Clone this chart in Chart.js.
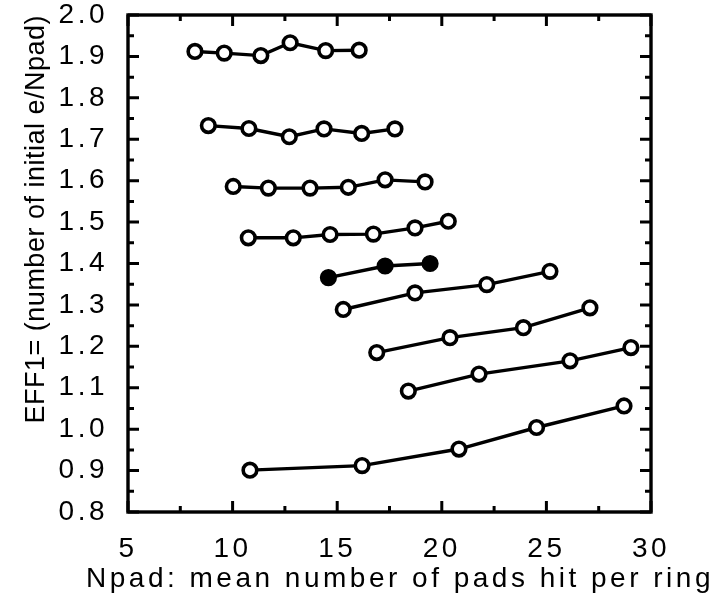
<!DOCTYPE html>
<html><head><meta charset="utf-8">
<script src="https://cdn.jsdelivr.net/npm/chart.js@4"></script>
<style>html,body{margin:0;padding:0;background:#fff}#wrap{width:722px;height:601px}</style>
</head><body><div id="wrap"><canvas id="c" width="722" height="601"></canvas></div>
<script>
// ---- data ----
const xTickValues = [5, 10, 15, 20, 25, 30];
const yTickValues = [0.8, 0.9, 1.0, 1.1, 1.2, 1.3, 1.4, 1.5, 1.6, 1.7, 1.8, 1.9, 2.0];
const xTitle = 'Npad: mean number of pads hit per ring';
const yTitle = 'EFF1= (number of initial e/Npad)';

const row1X = [8.2, 9.6, 11.35, 12.75, 14.45, 16.05];
const row1Y = [1.912, 1.908, 1.902, 1.933, 1.914, 1.915];
const row2X = [8.84, 10.78, 12.71, 14.37, 16.17, 17.76];
const row2Y = [1.733, 1.726, 1.706, 1.725, 1.714, 1.725];
const row3X = [10.03, 11.71, 13.70, 15.53, 17.29, 19.20];
const row3Y = [1.586, 1.582, 1.582, 1.584, 1.602, 1.597];
const row4X = [10.75, 12.90, 14.66, 16.73, 18.72, 20.31];
const row4Y = [1.462, 1.462, 1.470, 1.471, 1.486, 1.502];
const filledX = [14.58, 17.29, 19.44];
const filledY = [1.366, 1.394, 1.400];
const row6X = [15.29, 18.72, 22.15, 25.17];
const row6Y = [1.289, 1.329, 1.349, 1.381];
const row7X = [16.89, 20.39, 23.90, 27.08];
const row7Y = [1.185, 1.221, 1.245, 1.293];
const row8X = [18.40, 21.78, 26.13, 29.04];
const row8Y = [1.092, 1.133, 1.165, 1.197];
const row9X = [10.83, 16.19, 20.82, 24.53, 28.71];
const row9Y = [0.901, 0.912, 0.952, 1.004, 1.056];

function pts(xs, ys) { return xs.map((x, i) => ({ x: x, y: ys[i] })); }
function openSeries(xs, ys) {
  return { data: pts(xs, ys), showLine: true, borderColor: '#000', borderWidth: 3.4, tension: 0,
    pointRadius: 6.8, pointBorderWidth: 3.6, pointBackgroundColor: '#fff', pointBorderColor: '#000' };
}
function filledSeries(xs, ys) {
  return { data: pts(xs, ys), showLine: true, borderColor: '#000', borderWidth: 3.4, tension: 0,
    pointRadius: 7.8, pointBorderWidth: 1.6, pointBackgroundColor: '#000', pointBorderColor: '#000' };
}

const LS = '3.5px';
const framePlugin = {
  id: 'frame',
  beforeLayout(chart) { chart.ctx.letterSpacing = LS; },
  afterLayout(chart) {
    const ys = chart.scales.y;
    if (ys && !ys._patchedTitle) {
      const orig = ys.drawTitle;
      ys.drawTitle = function () {
        const c = this.ctx; const prev = c.letterSpacing;
        c.letterSpacing = '0.5px'; orig.call(this); c.letterSpacing = prev;
      };
      ys._patchedTitle = true;
    }
    const xs = chart.scales.x;
    if (xs && !xs._patchedTitle) {
      const origX = xs.drawTitle;
      xs.drawTitle = function () {
        // let the title run wider than the plot area, as in the reference
        const l = this.left, r = this.right;
        this.left = 62; this.right = 738;
        origX.call(this);
        this.left = l; this.right = r;
      };
      xs._patchedTitle = true;
    }
  },
  beforeDraw(chart) {
    const c = chart.ctx;
    c.save(); c.fillStyle = '#fff'; c.fillRect(0, 0, chart.width, chart.height); c.restore();
    c.letterSpacing = LS;
  },
  afterDraw(chart) {
    const { ctx, chartArea: a, scales: { x, y } } = chart;
    ctx.save();
    ctx.strokeStyle = '#000';
    ctx.lineWidth = 3.4;
    ctx.strokeRect(a.left, a.top, a.right - a.left, a.bottom - a.top);
    const major = 11, minor = 6;
    function xt(v, len) {
      const p = x.getPixelForValue(v);
      ctx.beginPath();
      ctx.moveTo(p, a.bottom); ctx.lineTo(p, a.bottom - len);
      ctx.moveTo(p, a.top); ctx.lineTo(p, a.top + len);
      ctx.stroke();
    }
    function yt(v, len) {
      const p = y.getPixelForValue(v);
      ctx.beginPath();
      ctx.moveTo(a.left, p); ctx.lineTo(a.left + len, p);
      ctx.moveTo(a.right, p); ctx.lineTo(a.right - len, p);
      ctx.stroke();
    }
    ctx.lineWidth = 3;
    for (let i = 0; i < xTickValues.length; i++) {
      xt(xTickValues[i], major);
      if (i < xTickValues.length - 1) xt((xTickValues[i] + xTickValues[i + 1]) / 2, minor);
    }
    for (let i = 0; i < yTickValues.length; i++) {
      yt(yTickValues[i], major);
      if (i < yTickValues.length - 1) yt((yTickValues[i] + yTickValues[i + 1]) / 2, minor);
    }
    ctx.restore();
  }
};

const FAM = '"Liberation Sans", Arial, Helvetica, sans-serif';
const tickFont = { family: FAM, size: 28, lineHeight: 1 };
const titleFont = { family: FAM, size: 28, lineHeight: 1.2 };

new Chart(document.getElementById('c'), {
  type: 'scatter',
  data: {
    datasets: [
      openSeries(row1X, row1Y), openSeries(row2X, row2Y), openSeries(row3X, row3Y),
      openSeries(row4X, row4Y), filledSeries(filledX, filledY), openSeries(row6X, row6Y),
      openSeries(row7X, row7Y), openSeries(row8X, row8Y), openSeries(row9X, row9Y)
    ]
  },
  options: {
    responsive: false,
    devicePixelRatio: 1,
    animation: false,
    layout: { padding: { left: 0, right: 71, top: 15, bottom: 0 } },
    plugins: { legend: { display: false }, tooltip: { enabled: false } },
    scales: {
      x: {
        type: 'linear', min: 5, max: 30,
        afterBuildTicks: (s) => { s.ticks = xTickValues.map(v => ({ value: v })); },
        afterFit: (s) => { s.height = 89; s.paddingLeft = 0; s.paddingRight = 0; },
        grid: { display: false }, border: { display: false },
        ticks: { color: '#000', font: tickFont, padding: 15, maxRotation: 0, callback: (v) => String(v) },
        title: { display: true, text: xTitle, color: '#000', font: titleFont, padding: { top: 0, bottom: 5 } }
      },
      y: {
        type: 'linear', min: 0.8, max: 2.0,
        afterBuildTicks: (s) => { s.ticks = yTickValues.map(v => ({ value: v })); },
        afterFit: (s) => { s.width = 128; s.paddingTop = 0; s.paddingBottom = 0; },
        grid: { display: false }, border: { display: false },
        ticks: { color: '#000', font: tickFont, padding: 12, callback: (v) => Number(v).toFixed(1) },
        title: { display: true, text: yTitle, color: '#000', align: 'end',
          font: { family: FAM, size: 27, lineHeight: 1.2 },
          padding: { top: 20, bottom: 0 } }
      }
    }
  },
  plugins: [framePlugin]
});
</script>
</body></html>
